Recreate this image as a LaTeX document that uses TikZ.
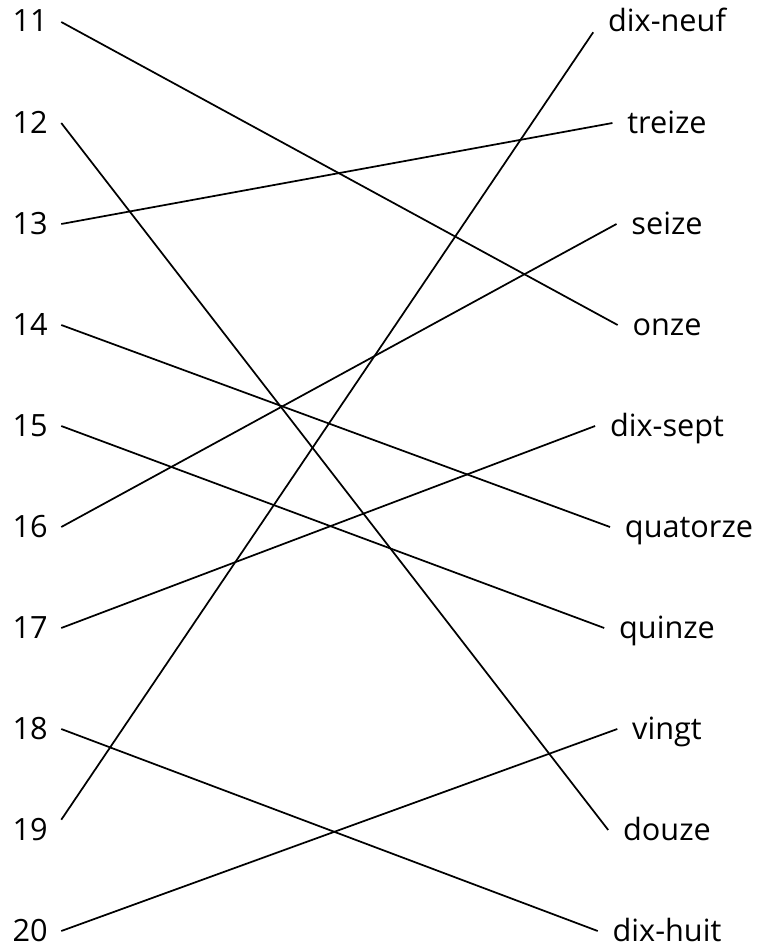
\documentclass[tikz,border=0pt]{standalone}
\usepackage{fontspec}
\setmainfont{Open Sans}
\usetikzlibrary{positioning}

\tikzset{
  num/.style={anchor=base west, inner xsep=10pt, inner ysep=0pt, text height=15pt, text depth=0pt, font=\fontsize{23}{26}\selectfont},
  word/.style={anchor=base, inner xsep=11pt, inner ysep=0pt, text height=15pt, text depth=0pt, font=\fontsize{23}{26}\selectfont},
  link/.style={line width=1.3pt}
}

\begin{document}
\begin{tikzpicture}[x=0.75pt, y=-0.75pt]
    \useasboundingbox (0,0) rectangle (760,949);

    \foreach \n [count=\i from 0] in {11,12,13,14,15,16,17,18,19,20}
        \node[num] (n\n) at (-1, 32+101*\i) {\n};

    \node[word] (dixneuf)  at (667, 32) {dix-neuf};
    \node[word] (treize)   at (667, 133) {treize};
    \node[word] (seize)    at (667, 234) {seize};
    \node[word] (onze)     at (667, 335) {onze};
    \node[word] (dixsept)  at (667, 436) {dix-sept};
    \node[word] (quatorze) at (689, 537) {quatorze};
    \node[word] (quinze)   at (667, 638) {quinze};
    \node[word] (vingt)    at (667, 739) {vingt};
    \node[word] (douze)    at (667, 840) {douze};
    \node[word] (dixhuit)  at (667, 941) {dix-huit};

    \draw[link] (n11.east) -- (onze.west);
    \draw[link] (n12.east) -- (douze.west);
    \draw[link] (n13.east) -- (treize.west);
    \draw[link] (n14.east) -- (quatorze.west);
    \draw[link] (n15.east) -- (quinze.west);
    \draw[link] (n16.east) -- (seize.west);
    \draw[link] (n17.east) -- (dixsept.west);
    \draw[link] (n18.east) -- (dixhuit.west);
    \draw[link] (n19.north east) -- (dixneuf.south west);
    \draw[link] (n20.east) -- (vingt.west);
\end{tikzpicture}
\end{document}
